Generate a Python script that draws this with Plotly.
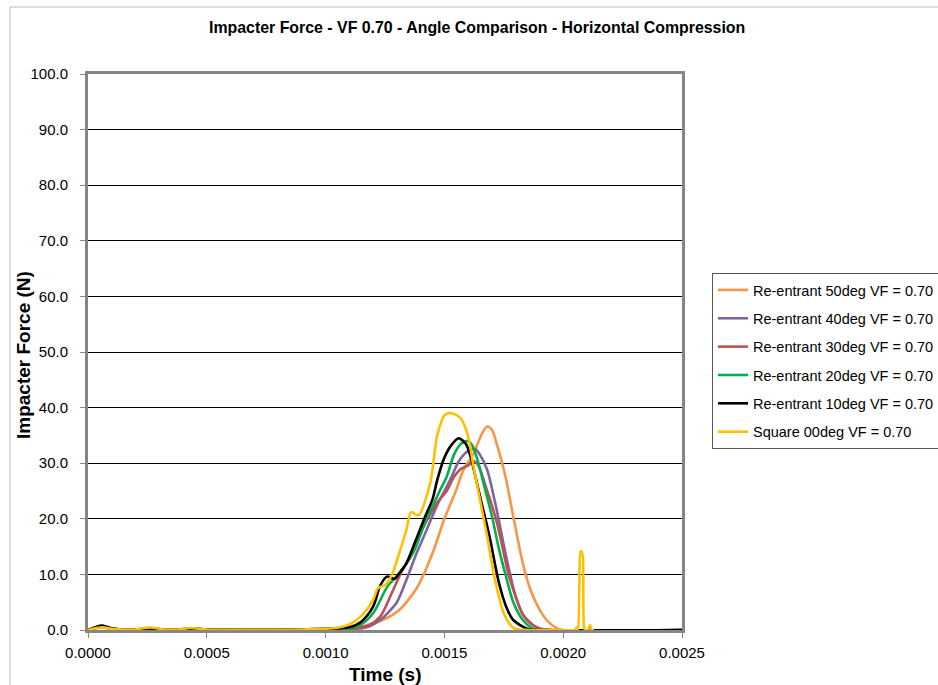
import plotly.graph_objects as go

# ---------------- data (time in s, force in N) ----------------
t_50 = [0, 0.00003, 0.00006, 0.0001, 0.00015, 0.0002, 0.00026, 0.00032, 0.00038, 0.00043, 0.0005, 0.0007, 0.0009, 0.00105,
        0.0011, 0.0012, 0.00126, 0.00131, 0.00135, 0.00139, 0.00145, 0.0015, 0.00155, 0.00158, 0.00162, 0.00164, 0.00166,
        0.00168, 0.0017, 0.00172, 0.00174, 0.00176, 0.00179, 0.00183, 0.00186, 0.00189, 0.00193, 0.00197, 0.002, 0.0025]
f_50 = [0, 0.3, 0.5, 0.2, 0.1, 0.1, 0.2, 0.1, 0.1, 0.2, 0.1, 0.05, 0.1, 0.1,
        0.1, 1.2, 2.2, 3.6, 5.5, 8.0, 13.8, 20.0, 25.2, 28.8, 31.5, 33.5, 35.5,
        36.6, 36.0, 33.5, 30.5, 27.0, 20.4, 12.0, 7.5, 4.5, 1.8, 0.4, 0, 0]

t_40 = [0, 0.00003, 0.00006, 0.0001, 0.00015, 0.0002, 0.00026, 0.00032, 0.00038, 0.00043, 0.0005, 0.0007, 0.0009, 0.00105,
        0.0011, 0.00118, 0.00123, 0.00126, 0.0013, 0.00134, 0.00138, 0.00141, 0.00144, 0.00147, 0.0015, 0.00153, 0.00156,
        0.0016, 0.00163, 0.00165, 0.00168, 0.00172, 0.00176, 0.0018, 0.00183, 0.00186, 0.0019, 0.00195, 0.0025]
f_40 = [0, 0.3, 0.6, 0.2, 0.1, 0.1, 0.2, 0.1, 0.1, 0.2, 0.1, 0.05, 0.1, 0.1,
        0.1, 0.6, 1.8, 3.0, 5.0, 9.0, 13.5, 16.5, 19.5, 22.5, 25.0, 27.5, 30.3,
        32.2, 32.5, 31.5, 28.8, 21.6, 13.2, 6.0, 2.8, 1.2, 0.3, 0, 0]

t_30 = [0, 0.00003, 0.00006, 0.0001, 0.00015, 0.0002, 0.00026, 0.00032, 0.00038, 0.00043, 0.0005, 0.0007, 0.0009, 0.00105,
        0.0011, 0.00118, 0.00123, 0.00128, 0.00132, 0.00136, 0.0014, 0.00145, 0.00148, 0.00151, 0.00154, 0.00157, 0.0016,
        0.00162, 0.00164, 0.00168, 0.00172, 0.00177, 0.0018, 0.00183, 0.00187, 0.0019, 0.00195, 0.0025]
f_30 = [0, 0.3, 0.6, 0.2, 0.1, 0.1, 0.2, 0.1, 0.1, 0.2, 0.1, 0.05, 0.1, 0.1,
        0.2, 0.8, 2.4, 6.8, 10.5, 13.5, 17.5, 21.5, 23.5, 25.0, 27.5, 29.0, 29.6,
        30.4, 29.8, 25.0, 19.5, 10.0, 6.0, 2.8, 1.0, 0.2, 0, 0]

t_20 = [0, 0.00003, 0.00006, 0.0001, 0.00015, 0.0002, 0.00026, 0.00032, 0.00038, 0.00043, 0.0005, 0.0007, 0.0009, 0.00105,
        0.0011, 0.00115, 0.0012, 0.00126, 0.00131, 0.00137, 0.00142, 0.00145, 0.00148, 0.00151, 0.00154, 0.00157, 0.0016,
        0.00162, 0.00164, 0.00167, 0.0017, 0.00173, 0.00176, 0.00179, 0.00183, 0.00187, 0.0019, 0.0025]
f_20 = [0, 0.4, 0.7, 0.2, 0.1, 0.1, 0.25, 0.1, 0.1, 0.2, 0.1, 0.05, 0.1, 0.2,
        0.3, 1.0, 3.0, 7.8, 10.2, 14.0, 19.5, 22.2, 25.0, 27.6, 31.5, 33.5, 34.0,
        33.0, 30.5, 25.5, 20.5, 14.5, 9.5, 5.0, 1.8, 0.3, 0, 0]

t_10 = [0, 0.00003, 0.00006, 0.0001, 0.00015, 0.0002, 0.00026, 0.00032, 0.00038, 0.00043, 0.0005, 0.0007, 0.0009, 0.00105,
        0.0011, 0.00115, 0.0012, 0.00123, 0.001258, 0.00129, 0.00131, 0.00134, 0.00138, 0.00142, 0.00145, 0.00147, 0.0015,
        0.00153, 0.00156, 0.00159, 0.00161, 0.00165, 0.00169, 0.00173, 0.00176, 0.00179, 0.00185, 0.0019, 0.0025]
f_10 = [0, 0.5, 0.8, 0.3, 0.1, 0.1, 0.3, 0.1, 0.1, 0.25, 0.1, 0.05, 0.1, 0.3,
        0.5, 1.5, 4.2, 8.0, 9.6, 9.2, 10.2, 12.0, 16.2, 20.5, 23.5, 27.0, 31.0,
        33.3, 34.5, 33.5, 31.2, 24.0, 16.8, 8.4, 4.2, 1.8, 0.2, 0, 0]

t_00 = [0, 0.00003, 0.00006, 0.0001, 0.00015, 0.0002, 0.00026, 0.00032, 0.00038, 0.00043, 0.0005, 0.0007, 0.0009, 0.00105,
        0.0011, 0.00115, 0.0012, 0.00122, 0.00125, 0.00128, 0.0013, 0.00134, 0.00136, 0.00139, 0.00144, 0.00147, 0.0015,
        0.00152, 0.00155, 0.00157, 0.0016, 0.00162, 0.00165, 0.00168, 0.00171, 0.00175, 0.00178, 0.0018, 0.00185, 0.002,
        0.00205, 0.002056, 0.002062, 0.002068, 0.002073, 0.002078, 0.002083, 0.002088, 0.002094, 0.002104, 0.002113,
        0.00212, 0.00213]
f_00 = [0, 0.3, 0.5, 0.2, 0.1, 0.1, 0.45, 0.1, 0.1, 0.35, 0.1, 0.05, 0.1, 0.4,
        1.0, 2.5, 5.4, 7.5, 8.1, 10.0, 12.5, 18.0, 21.2, 20.6, 26.4, 35.0, 38.6,
        39.0, 38.7, 38.0, 34.8, 30.0, 23.4, 16.8, 9.6, 3.0, 0.8, 0.2, 0, 0,
        0, 0.5, 0, 8.0, 14.2, 14.0, 13.0, 0.5, 0, 0, 0.9,
        0, 0]

series_names = ["Re-entrant 50deg VF = 0.70", "Re-entrant 40deg VF = 0.70", "Re-entrant 30deg VF = 0.70",
                "Re-entrant 20deg VF = 0.70", "Re-entrant 10deg VF = 0.70", "Square 00deg VF = 0.70"]
series_t = [t_50, t_40, t_30, t_20, t_10, t_00]
series_f = [f_50, f_40, f_30, f_20, f_10, f_00]
colors = ["#F79646", "#8064A2", "#C0504D", "#00B050", "#000000", "#FFC000"]

x_ticks = [0, 0.0005, 0.001, 0.0015, 0.002, 0.0025]
y_ticks = [0, 10, 20, 30, 40, 50, 60, 70, 80, 90, 100]

# ---------------- figure ----------------
fig = go.Figure()
for i, (name, t, f, c) in enumerate(zip(series_names, series_t, series_f, colors)):
    fig.add_trace(go.Scatter(x=t, y=f, mode="lines", name=name, legendgroup=str(i),
                             line=dict(color=c, width=2.6, shape="spline", smoothing=0.8)))

W, H = 938, 685
L, R, T, B = 88, 682, 74, 630

fig.update_layout(
    width=W, height=H,
    margin=dict(l=L, r=W - R, t=T, b=H - B, autoexpand=False),
    paper_bgcolor="white", plot_bgcolor="white",
    font=dict(family="Liberation Sans, Arial", color="#000000", size=13),
    showlegend=True,
    legend=dict(x=(712 - L) / (R - L), y=(B - 273) / (B - T), xanchor="left", yanchor="top",
                bordercolor="#555555", borderwidth=1, bgcolor="white",
                font=dict(family="Liberation Sans, Arial", size=14.5, color="#000000"),
                tracegroupgap=6.5, itemwidth=30),
    xaxis=dict(range=[0, 0.0025], tickvals=x_ticks, tickformat=".4f",
               showline=True, linecolor="#868686", linewidth=3, mirror=True,
               ticks="outside", ticklen=5, tickcolor="#868686", tickwidth=1,
               showgrid=False, zeroline=False, tickfont=dict(size=15), ticklabelstandoff=2),
    yaxis=dict(range=[0, 100], tickvals=y_ticks, tickformat=".1f",
               showline=True, linecolor="#868686", linewidth=3, mirror=True,
               ticks="outside", ticklen=5, tickcolor="#868686", tickwidth=1,
               showgrid=True, gridcolor="#000000", gridwidth=1, zeroline=False,
               tickfont=dict(size=15), ticklabelstandoff=9),
    annotations=[
        dict(text="<b>Impacter Force - VF 0.70 - Angle Comparison - Horizontal Compression</b>",
             xref="paper", yref="paper", x=(477 - L) / (R - L), y=(B - 27) / (B - T),
             xanchor="center", yanchor="middle", showarrow=False, font=dict(size=15.9)),
        dict(text="<b>Impacter Force (N)</b>", xref="paper", yref="paper",
             x=(23 - L) / (R - L), y=(B - 355) / (B - T), textangle=-90,
             xanchor="center", yanchor="middle", showarrow=False, font=dict(size=19)),
        dict(text="<b>Time (s)</b>", xref="paper", yref="paper",
             x=(385 - L) / (R - L), y=(B - 674) / (B - T),
             xanchor="center", yanchor="middle", showarrow=False, font=dict(size=19)),
    ],
    shapes=[
        dict(type="rect", xref="paper", yref="paper",
             x0=(10 - L) / (R - L), y0=(B - 700) / (B - T), x1=(960 - L) / (R - L), y1=(B - 7) / (B - T),
             line=dict(color="#BFBFBF", width=1), fillcolor="rgba(0,0,0,0)", layer="below"),
    ],
)

fig.write_html("out.html")
